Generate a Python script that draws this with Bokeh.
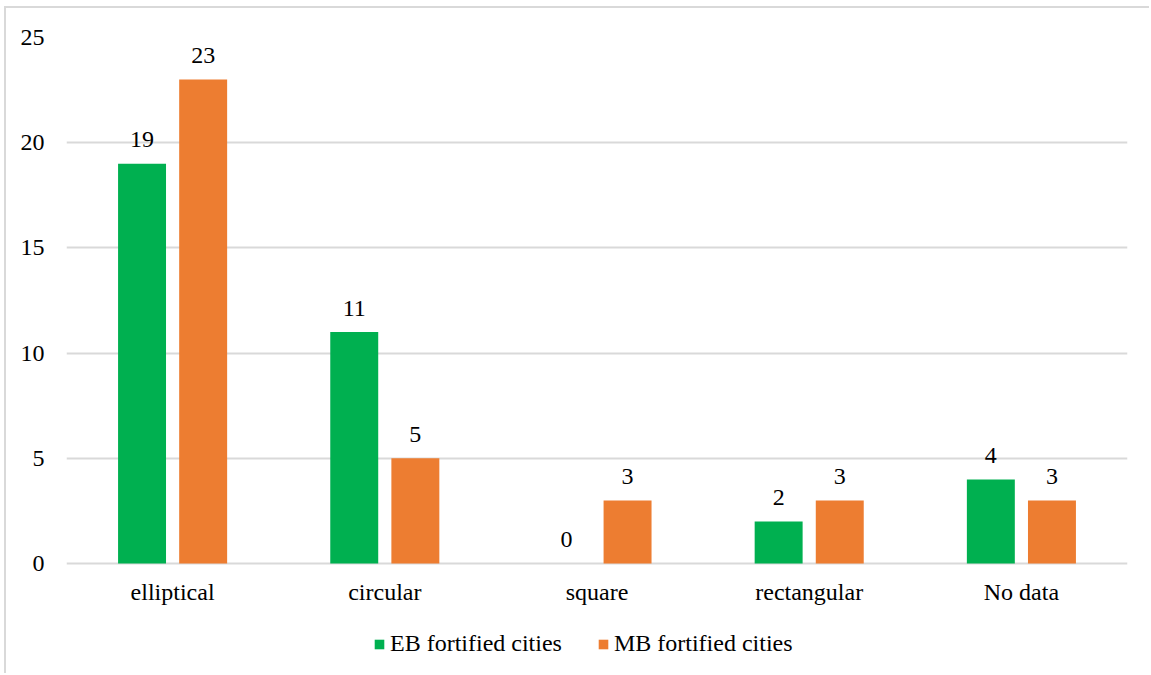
from bokeh.plotting import figure
from bokeh.models import ColumnDataSource, FactorRange, Range1d, Legend, LegendItem, FixedTicker
from bokeh.transform import dodge
from bokeh.core.properties import value
from bokeh.embed import file_html
from bokeh.resources import INLINE

shapes = ["elliptical", "circular", "square", "rectangular", "No data"]
eb_cities = [19, 11, 0, 2, 4]
mb_cities = [23, 5, 3, 3, 3]
series_names = ["EB fortified cities", "MB fortified cities"]
y_ticks = [0, 5, 10, 15, 20, 25]

GREEN = "#00B050"
ORANGE = "#ED7D31"
GRID = "#d9d9d9"
FONT = "Liberation Serif"
FS = "24px"

source = ColumnDataSource(dict(
    shape=shapes,
    eb=eb_cities,
    mb=mb_cities,
    eb_txt=[str(v) for v in eb_cities],
    mb_txt=[str(v) for v in mb_cities],
    base=[0] * len(shapes),
))

# the frame runs down to the bottom edge so the category names and the
# legend can sit underneath the zero line
p = figure(
    x_range=FactorRange(*shapes, range_padding=0),
    y_range=Range1d(-5.32, 25),
    width=1145, height=667,
    output_backend="svg", toolbar_location=None,
    min_border_left=60, min_border_right=24,
    min_border_top=29, min_border_bottom=0,
)
p.styles = {
    "margin-left": "4px", "margin-top": "6px",
    "border-left": "2px solid #d9d9d9", "border-top": "2px solid #d9d9d9",
}
p.outline_line_color = None

offset = 0.144
bar_w = 0.226
r_eb = p.vbar(x=dodge("shape", -offset, range=p.x_range), top="eb", width=bar_w,
              source=source, fill_color=GREEN, line_color=None)
r_mb = p.vbar(x=dodge("shape", offset, range=p.x_range), top="mb", width=bar_w,
              source=source, fill_color=ORANGE, line_color=None)

# value labels above each bar
for col, txt, dx in (("eb", "eb_txt", -offset), ("mb", "mb_txt", offset)):
    p.text(x=dodge("shape", dx, range=p.x_range), y=col, text=txt, source=source,
           text_align="center", text_baseline="alphabetic", y_offset=-24,
           text_font=value(FONT), text_font_size=FS, text_color="#000000")

# category names under the zero line
p.text(x="shape", y="base", text="shape", source=source,
       text_align="center", text_baseline="alphabetic", y_offset=28,
       text_font=value(FONT), text_font_size=FS, text_color="#000000")

p.xaxis.visible = False
p.yaxis.ticker = FixedTicker(ticks=y_ticks)
p.yaxis.axis_line_color = None
p.yaxis.major_tick_line_color = None
p.yaxis.minor_tick_line_color = None
p.yaxis.major_label_text_font = FONT
p.yaxis.major_label_text_font_size = FS
p.yaxis.major_label_text_color = "#000000"
p.yaxis.major_label_standoff = 16

p.xgrid.grid_line_color = None
p.ygrid.grid_line_color = GRID
p.ygrid.grid_line_width = 2

legend = Legend(
    items=[LegendItem(label=series_names[0], renderers=[r_eb]),
           LegendItem(label=series_names[1], renderers=[r_mb])],
    orientation="horizontal", location=(307, 18),
    glyph_width=12, glyph_height=12, label_standoff=5, spacing=35,
    label_text_font=FONT, label_text_font_size=FS, label_text_color="#000000",
    border_line_color=None, background_fill_alpha=0, padding=0, margin=0,
)
p.add_layout(legend)

open("out.html", "w").write(file_html(p, INLINE))
